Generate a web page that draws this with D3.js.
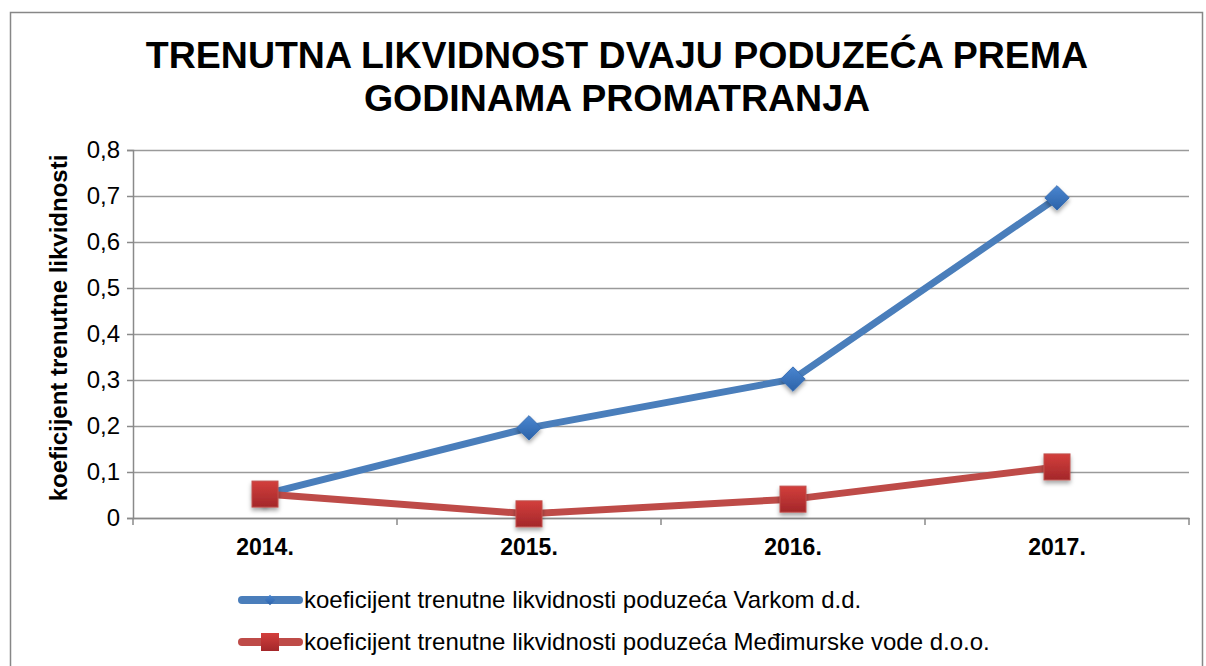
<!DOCTYPE html>
<html>
<head>
<meta charset="utf-8">
<script src="https://cdn.jsdelivr.net/npm/d3@7"></script>
<style>
  body { margin: 0; background: #fff; }
  svg { font-family: "Liberation Sans", Arial, sans-serif; }
</style>
</head>
<body>
<svg width="1206" height="666"></svg>
<script>
// data
var years = ["2014.", "2015.", "2016.", "2017."];
var varkom = [0.052, 0.196, 0.302, 0.696];
var medjimurske = [0.052, 0.009, 0.041, 0.111];
var yTicks = [0, 0.1, 0.2, 0.3, 0.4, 0.5, 0.6, 0.7, 0.8];
var seriesNames = [
  "koeficijent trenutne likvidnosti poduzeća Varkom d.d.",
  "koeficijent trenutne likvidnosti poduzeća Međimurske vode d.o.o."
];

var svg = d3.select("svg"),
  margin = {top: 150, right: 17, bottom: 148, left: 133},
  width = +svg.attr("width") - margin.left - margin.right,
  height = +svg.attr("height") - margin.top - margin.bottom;

// gradients / shadow for the markers
var defs = svg.append("defs");
var gb = defs.append("linearGradient").attr("id", "gBlue").attr("x1", 0).attr("y1", 0).attr("x2", 0).attr("y2", 1);
gb.append("stop").attr("offset", "0%").attr("stop-color", "#4a86d0");
gb.append("stop").attr("offset", "100%").attr("stop-color", "#2c62a8");
var gr = defs.append("linearGradient").attr("id", "gRed").attr("x1", 0).attr("y1", 0).attr("x2", 0).attr("y2", 1);
gr.append("stop").attr("offset", "0%").attr("stop-color", "#d33f3c");
gr.append("stop").attr("offset", "100%").attr("stop-color", "#a3272a");
var sh = defs.append("filter").attr("id", "shadow").attr("x", "-50%").attr("y", "-50%").attr("width", "200%").attr("height", "200%");
sh.append("feDropShadow").attr("dx", 0).attr("dy", 3).attr("stdDeviation", 2).attr("flood-color", "#000").attr("flood-opacity", 0.35);

// outer chart border
svg.append("rect")
  .attr("x", 10.5).attr("y", 12.5)
  .attr("width", 1192).attr("height", 700)
  .attr("fill", "none").attr("stroke", "#878787").attr("stroke-width", 1.5);

// title
var title = svg.append("text")
  .attr("text-anchor", "middle")
  .attr("font-weight", "bold")
  .attr("font-size", 37.5)
  .attr("fill", "#000");
title.append("tspan").attr("x", 617).attr("y", 68).text("TRENUTNA LIKVIDNOST DVAJU PODUZEĆA PREMA");
title.append("tspan").attr("x", 617).attr("y", 111).text("GODINAMA PROMATRANJA");

var g = svg.append("g").attr("transform", "translate(" + margin.left + "," + margin.top + ")");

var x = d3.scaleBand().domain(years).range([0, width]);
var y = d3.scaleLinear().domain([0, 0.8]).range([height, 0]);

// gridlines
g.append("g")
  .call(d3.axisLeft(y).tickValues(yTicks).tickSize(-width).tickFormat(""))
  .call(function(s) { s.select(".domain").remove(); })
  .selectAll("line").attr("stroke", "#9a9a9a").attr("stroke-width", 1.5);

// y axis
var yAxis = g.append("g")
  .call(d3.axisLeft(y).tickValues(yTicks).tickSize(6).tickPadding(7)
    .tickFormat(function(d) { return d === 0 ? "0" : d3.format(".1f")(d).replace(".", ","); }));
yAxis.attr("font-size", null).attr("font-family", null);
yAxis.select(".domain").attr("stroke", "#8a8a8a").attr("stroke-width", 1.5);
yAxis.selectAll("line").attr("stroke", "#8a8a8a").attr("stroke-width", 1.5);
yAxis.selectAll("text").style("font-size", "24px").attr("fill", "#000");

// x axis with ticks on category boundaries
var xAxis = g.append("g").attr("transform", "translate(0," + height + ")")
  .call(d3.axisBottom(x).tickSize(0).tickPadding(21));
xAxis.attr("font-size", null).attr("font-family", null);
xAxis.select(".domain").attr("stroke", "#8a8a8a").attr("stroke-width", 1.5);
xAxis.selectAll("text").style("font-size", "23px").attr("font-weight", "bold").attr("fill", "#000");
xAxis.selectAll("line.boundary")
  .data(d3.range(years.length + 1)).enter().append("line")
  .attr("class", "boundary")
  .attr("x1", function(i) { return i * x.step(); })
  .attr("x2", function(i) { return i * x.step(); })
  .attr("y1", 0).attr("y2", 7)
  .attr("stroke", "#8a8a8a").attr("stroke-width", 1.5);

// y axis title
svg.append("text")
  .attr("transform", "translate(67," + (margin.top + height / 2 - 6) + ") rotate(-90)")
  .attr("text-anchor", "middle")
  .attr("font-weight", "bold")
  .style("font-size", "24px")
  .text("koeficijent trenutne likvidnosti");

var line = d3.line()
  .x(function(d, i) { return x(years[i]) + x.bandwidth() / 2; })
  .y(function(d) { return y(d); });

// Varkom series
g.append("path").datum(varkom)
  .attr("fill", "none").attr("stroke", "#4a7ebb").attr("stroke-width", 7)
  .attr("stroke-linejoin", "round").attr("d", line);

// Medjimurske series
g.append("path").datum(medjimurske)
  .attr("fill", "none").attr("stroke", "#be4b48").attr("stroke-width", 7)
  .attr("stroke-linejoin", "round").attr("d", line);

// diamonds
g.selectAll("path.diamond")
  .data(varkom).enter().append("path")
  .attr("class", "diamond")
  .attr("d", d3.symbol().type(d3.symbolDiamond2).size(380))
  .attr("transform", function(d, i) { return "translate(" + (x(years[i]) + x.bandwidth() / 2) + "," + y(d) + ")"; })
  .attr("fill", "url(#gBlue)").attr("stroke", "#3a6fb5").attr("stroke-width", 1)
  .attr("filter", "url(#shadow)");

// squares
g.selectAll("rect.square")
  .data(medjimurske).enter().append("rect")
  .attr("class", "square")
  .attr("x", function(d, i) { return x(years[i]) + x.bandwidth() / 2 - 13; })
  .attr("y", function(d) { return y(d) - 13; })
  .attr("width", 26).attr("height", 26)
  .attr("fill", "url(#gRed)").attr("stroke", "#c0504d").attr("stroke-width", 1)
  .attr("filter", "url(#shadow)");

// legend
var legend = svg.append("g");
var legY = [600, 642];
legend.append("line").attr("x1", 242).attr("x2", 299).attr("y1", legY[0]).attr("y2", legY[0])
  .attr("stroke", "#4a7ebb").attr("stroke-width", 8).attr("stroke-linecap", "round");
legend.append("path")
  .attr("d", d3.symbol().type(d3.symbolDiamond2).size(70))
  .attr("transform", "translate(270," + legY[0] + ")")
  .attr("fill", "url(#gBlue)");
legend.append("line").attr("x1", 242).attr("x2", 299).attr("y1", legY[1]).attr("y2", legY[1])
  .attr("stroke", "#be4b48").attr("stroke-width", 8).attr("stroke-linecap", "round");
legend.append("rect").attr("x", 261).attr("y", legY[1] - 9).attr("width", 18).attr("height", 18)
  .attr("fill", "url(#gRed)");
legend.selectAll("text.leg")
  .data(seriesNames).enter().append("text")
  .attr("class", "leg")
  .attr("x", 304)
  .attr("y", function(d, i) { return legY[i] + 8; })
  .style("font-size", "24px")
  .text(function(d) { return d; });
</script>
</body>
</html>
